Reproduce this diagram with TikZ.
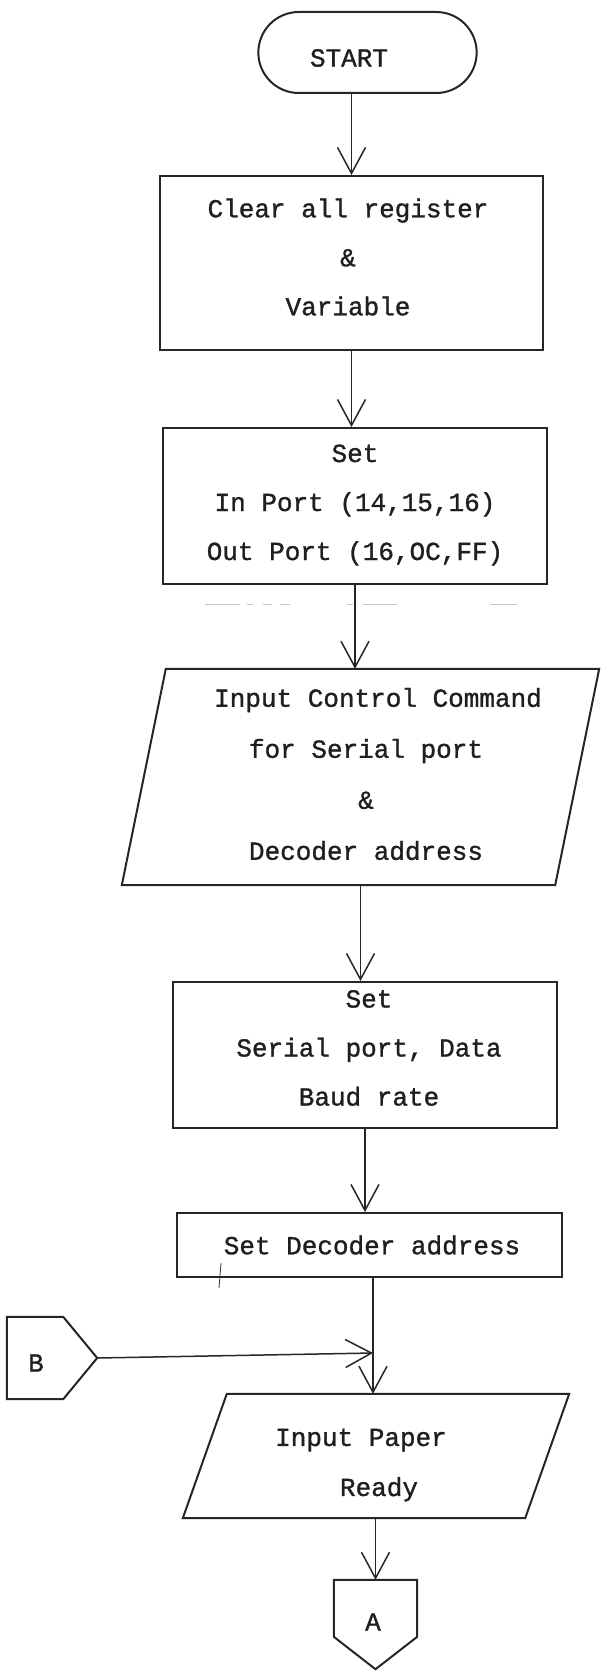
\documentclass[tikz,border=0pt]{standalone}
\usepackage{fontspec}
\newfontfamily\typefont{Liberation Mono}[FakeBold=1.2]
\usetikzlibrary{arrows.meta,shapes.misc}

\begin{document}
\begin{tikzpicture}[x=1pt,y=-1pt,
  ink/.style={draw=black!85, line width=2pt},
  boxshape/.style={ink, rectangle, inner sep=0pt},
  slantbase/.style={rectangle, inner sep=0pt},
  flow/.style={draw=black!85, line width=1.5pt,
    -{Straight Barb[length=26pt,width=28pt]}},
  txt/.style={font=\typefont\fontsize{26}{49}\selectfont, align=center,
    inner sep=0pt, text=black!88},
]
% page frame
\useasboundingbox (0,0) rectangle (604,1680);

% terminal
\node[ink, rounded rectangle, minimum width=225pt, minimum height=81pt] (start) at (367.5,52.5) {};
\node[txt] (startT) at (349,58) {START};

% process boxes
\node[boxshape, minimum width=383pt, minimum height=174pt] (clear) at (351.5,263) {};
\node[txt] (clearT) at (348,257) {Clear all register\\\&\\Variable};

\node[boxshape, minimum width=384pt, minimum height=156pt] (ports) at (355,506) {};
\node[txt] (portsT) at (355,505) {Set\\In Port (14,15,16)\\Out Port (16,OC,FF)};

% faint marks under the port box
\draw[black!22, line width=1pt,
  dash pattern=on 35pt off 7pt on 6pt off 10pt on 9pt off 8pt on 10pt off 57pt on 6pt off 10pt on 34pt off 93pt on 27pt off 50pt]
  (205,604) -- (517,604);

% input parallelogram: command
\node[slantbase, minimum width=433pt, minimum height=216pt] (cmd) at (360.5,777) {};
\draw[ink] ([xshift=22pt]cmd.north west) -- ([xshift=22pt]cmd.north east)
  -- ([xshift=-22pt]cmd.south east) -- ([xshift=-22pt]cmd.south west) -- cycle;
\node[txt] (cmdT) at (366,774) {\hspace*{24pt}Input Control Command\\[2pt]for Serial port\\[2pt]\&\\[2pt]Decoder address};

% serial setup box
\node[boxshape, minimum width=384pt, minimum height=146pt] (serial) at (365,1055) {};
\node[txt] (serialT) at (369,1048) {Set\\Serial port, Data\\Baud rate};

% decoder box
\node[boxshape, minimum width=385pt, minimum height=64pt] (decoder) at (369.5,1245) {};
\node[txt] (decoderT) at (372,1245) {Set Decoder address};
\draw[black!80, line width=0.8pt] (221,1263) -- (219,1288);

% input parallelogram: paper
\node[slantbase, minimum width=342pt, minimum height=124pt] (paper) at (376,1456) {};
\draw[ink] ([xshift=22pt]paper.north west) -- ([xshift=22pt]paper.north east)
  -- ([xshift=-22pt]paper.south east) -- ([xshift=-22pt]paper.south west) -- cycle;
\node[txt] (paperT) at (361,1465) {Input Paper\\[1pt]\hspace*{36pt}Ready};

% off-page connector A
\node[slantbase, minimum width=83pt, minimum height=89pt] (conA) at (375.5,1624.5) {};
\draw[ink] (conA.north west) -- (conA.north east) -- ([yshift=-57pt]conA.north east)
  -- (conA.south) -- ([yshift=-57pt]conA.north west) -- cycle;
\node[txt] (conAT) at (373,1622) {A};

% off-page connector B
\node[slantbase, minimum width=90pt, minimum height=82pt] (conB) at (52,1358) {};
\draw[ink] (conB.north west) -- ([xshift=-34pt]conB.north east) -- (conB.east)
  -- ([xshift=-34pt]conB.south east) -- (conB.south west) -- cycle;
\node[txt] (conBT) at (36,1363) {B};

% flow lines
\coordinate (join) at (373,1353);
\draw[flow] (clear.north |- start.south) -- (clear.north);
\draw[flow] (clear.south) -- (clear.south |- ports.north);
\draw[flow] (ports.south) -- (ports.south |- cmd.north);
\draw[flow] (cmd.south) -- (cmd.south |- serial.north);
\draw[flow] (serial.south) -- (serial.south |- decoder.north);
\draw[flow] (decoder.south -| join) -- (join |- paper.north);
\draw[flow] (conB.east) -- (join);
\draw[flow] (paper.south -| conA.north) -- (conA.north);
\end{tikzpicture}
\end{document}
